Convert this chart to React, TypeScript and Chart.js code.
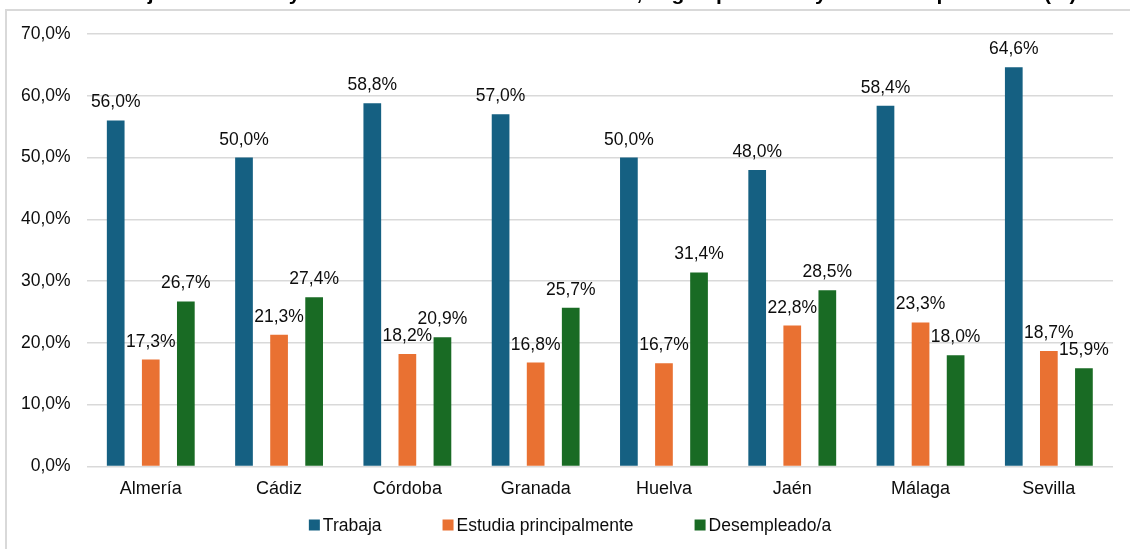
import { useEffect, useRef } from 'react';
import { Chart, registerables } from 'chart.js';

Chart.register(...registerables);

const titleText =
  'Población joven titulada y con lo estudiado en la actualidad, según provincia y actividad que realiza (%)';
const categories = ['Almería', 'Cádiz', 'Córdoba', 'Granada', 'Huelva', 'Jaén', 'Málaga', 'Sevilla'];
const seriesNames = ['Trabaja', 'Estudia principalmente', 'Desempleado/a'];
const trabaja = [56.0, 50.0, 58.8, 57.0, 50.0, 48.0, 58.4, 64.6];
const estudia = [17.3, 21.3, 18.2, 16.8, 16.7, 22.8, 23.3, 18.7];
const desempleado = [26.7, 27.4, 20.9, 25.7, 31.4, 28.5, 18.0, 15.9];
const seriesColors = ['#156082', '#E97132', '#196B24'];
const yTicks = [0, 10, 20, 30, 40, 50, 60, 70];
const yTickLabels = ['0,0%', '10,0%', '20,0%', '30,0%', '40,0%', '50,0%', '60,0%', '70,0%'];

const FONT = "'Liberation Sans', Arial, sans-serif";
const TEXT_COLOR = '#0d0d0d';
const fmt = (v: number) => v.toFixed(1).replace('.', ',') + '%';

const dataLabels = {
  id: 'dataLabels',
  afterDatasetsDraw(chart: any) {
    const ctx = chart.ctx;
    ctx.save();
    ctx.font = `17.5px ${FONT}`;
    ctx.fillStyle = TEXT_COLOR;
    ctx.textAlign = 'center';
    ctx.textBaseline = 'alphabetic';
    chart.data.datasets.forEach((ds: any, i: number) => {
      const meta = chart.getDatasetMeta(i);
      meta.data.forEach((el: any, j: number) => {
        ctx.fillText(fmt(ds.data[j]), el.x, el.y - 13);
      });
    });
    ctx.restore();
  },
};

const customLegend = {
  id: 'customLegend',
  afterDraw(chart: any) {
    const ctx = chart.ctx;
    ctx.save();
    ctx.font = `17.5px ${FONT}`;
    const box = 11;
    const gapBox = 3;
    const gapItem = 61;
    const items = chart.data.datasets.map((ds: any) => ({
      text: ds.label as string,
      color: ds.backgroundColor as string,
      w: ctx.measureText(ds.label).width as number,
    }));
    const total =
      items.reduce((s: number, it: any) => s + box + gapBox + it.w, 0) + gapItem * (items.length - 1);
    let x = 570 - total / 2;
    const y = 545;
    ctx.textBaseline = 'middle';
    ctx.textAlign = 'left';
    items.forEach((it: any) => {
      ctx.fillStyle = it.color;
      ctx.fillRect(x, y - box / 2, box, box);
      ctx.fillStyle = TEXT_COLOR;
      ctx.fillText(it.text, x + box + gapBox, y + 1);
      x += box + gapBox + it.w + gapItem;
    });
    ctx.restore();
  },
};

export default function App() {
  const ref = useRef<HTMLCanvasElement>(null);
  useEffect(() => {
    const seriesData = [trabaja, estudia, desempleado];
    const chart = new Chart(ref.current as HTMLCanvasElement, {
      type: 'bar',
      data: {
        labels: categories,
        datasets: seriesNames.map((name, i) => ({
          label: name,
          data: seriesData[i],
          backgroundColor: seriesColors[i],
          borderWidth: 0,
          categoryPercentage: 0.82,
          barPercentage: 0.505,
        })),
      },
      options: {
        responsive: false,
        animation: false,
        layout: { padding: { left: 5, right: 17, top: 0, bottom: 37 } },
        plugins: {
          legend: { display: false },
          tooltip: { enabled: false },
          title: {
            display: true,
            text: titleText,
            color: '#000',
            font: { family: FONT, size: 21, weight: 'bold' },
            padding: { top: 2, bottom: 26.8 },
          },
        },
        scales: {
          x: {
            grid: { display: false, drawTicks: false },
            border: { display: false },
            ticks: { color: TEXT_COLOR, font: { family: FONT, size: 18 }, padding: 12 },
          },
          y: {
            min: 0,
            max: 70,
            afterBuildTicks: (scale: any) => {
              scale.ticks = yTicks.map((v) => ({ value: v }));
            },
            ticks: {
              padding: 16,
              color: TEXT_COLOR,
              font: { family: FONT, size: 17.5 },
              callback: (value: any) => yTickLabels[yTicks.indexOf(Number(value))],
            },
            grid: { color: '#d9d9d9', lineWidth: 1.5, drawTicks: false },
            border: { display: false },
          },
        },
      },
      plugins: [dataLabels, customLegend],
    });
    return () => chart.destroy();
  }, []);

  return (
    <div
      style={{
        position: 'absolute',
        left: 0,
        top: 0,
        width: 1130,
        height: 549,
        overflow: 'hidden',
        background: '#fff',
      }}
    >
      <div
        style={{
          position: 'absolute',
          left: 5,
          top: 9,
          width: 1140,
          height: 600,
          border: '2px solid #d9d9d9',
          boxSizing: 'border-box',
        }}
      />
      <canvas
        ref={ref}
        width={1130}
        height={569}
        style={{ position: 'absolute', left: 0, top: -20, width: 1130, height: 569 }}
      />
    </div>
  );
}
